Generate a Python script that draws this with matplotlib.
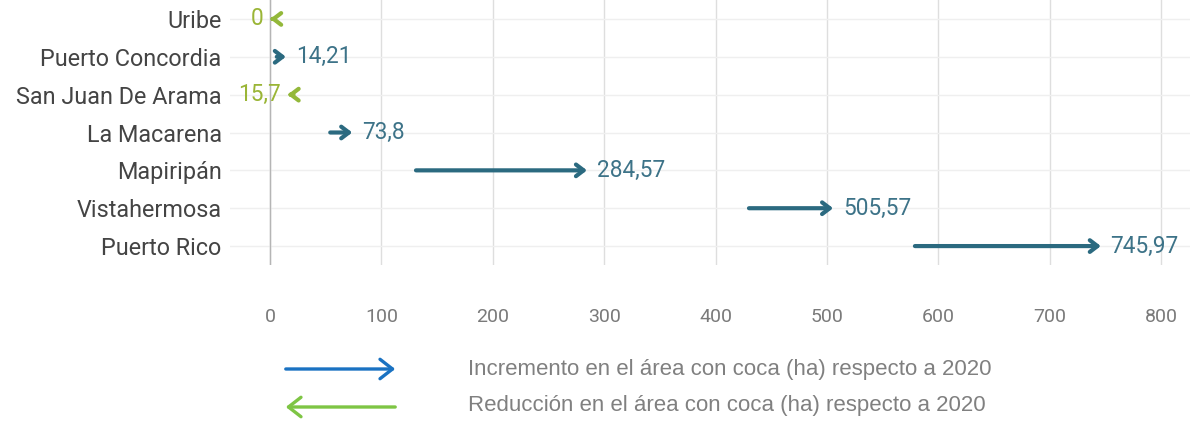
import matplotlib.pyplot as plt
from matplotlib.patches import FancyArrowPatch

# municipios, area 2020 (inicio) y area 2021 (fin)
municipios = ['Uribe', 'Puerto Concordia', 'San Juan De Arama', 'La Macarena',
              'Mapiripán', 'Vistahermosa', 'Puerto Rico']
inicio = [3, 6, 21, 54, 131, 430, 579]
fin = [0, 14.21, 15.7, 73.8, 284.57, 505.57, 745.97]
etiquetas = ['0', '14,21', '15,7', '73,8', '284,57', '505,57', '745,97']
xticks = [0, 100, 200, 300, 400, 500, 600, 700, 800]

leyenda = ['Incremento en el área con coca (ha) respecto a 2020',
           'Reducción en el área con coca (ha) respecto a 2020']

c_up = '#2b6a80'
c_up_txt = '#3d7388'
c_down = '#93b83a'
c_down_txt = '#9ab536'

plt.rcParams['font.family'] = ['Roboto', 'DejaVu Sans']

fig = plt.figure(figsize=(11.94, 4.21), dpi=100)
ax = fig.add_axes([230 / 1194, 1 - 265 / 421, 960 / 1194, 265 / 421])

n = len(municipios)
ypos = list(range(n))
ax.set_ylim(n - 0.5, -0.5)
ax.set_xlim(-36, 826)

for i in range(n):
    a, b = inicio[i], fin[i]
    up = b >= a
    col = c_up if up else c_down
    ax.annotate('', xy=(b, i), xytext=(a, i),
                arrowprops=dict(arrowstyle='->,head_length=0.55,head_width=0.42',
                                color=col, lw=3, shrinkA=0, shrinkB=0))
    if up:
        ax.annotate(etiquetas[i], xy=(b, i), xytext=(7, 0), textcoords='offset points',
                    ha='left', va='center', fontsize=16.3, color=c_up_txt)
    else:
        ax.annotate(etiquetas[i], xy=(b, i), xytext=(-5, 0), textcoords='offset points',
                    ha='right', va='center', fontsize=16.3, color=c_down_txt)

ax.set_yticks(ypos)
ax.set_yticklabels(municipios, fontsize=16.8, color='#444444')
ax.set_xticks(xticks)
ax.set_xticklabels([str(t) for t in xticks], fontsize=14, color='#7a7a7a')
ax.tick_params(axis='y', length=0, pad=6)
ax.tick_params(axis='x', length=0, pad=31)

ax.grid(axis='x', color='#dedede', lw=1)
ax.grid(axis='y', color='#efefef', lw=1)
ax.axvline(0, color='#b5b5b5', lw=1, zorder=1)
ax.set_axisbelow(True)
for s in ax.spines.values():
    s.set_visible(False)

# leyenda manual
y1 = 1 - 369 / 421
y2 = 1 - 407 / 421
x_a, x_b = 283 / 1194, 398 / 1194
fig.patches.append(FancyArrowPatch((x_a, y1), (x_b, y1), transform=fig.transFigure,
                                   arrowstyle='->,head_length=9,head_width=7',
                                   color='#1a72c2', lw=2.4, mutation_scale=1))
fig.patches.append(FancyArrowPatch((x_b, y2), (x_a, y2), transform=fig.transFigure,
                                   arrowstyle='->,head_length=9,head_width=7',
                                   color='#7ec544', lw=2.4, mutation_scale=1))
fam_ley = ['Liberation Sans', 'DejaVu Sans']
fig.text(468 / 1194, 1 - 369 / 421, leyenda[0], fontsize=16, color='#808080',
         va='center', ha='left', family=fam_ley)
fig.text(468 / 1194, 1 - 405 / 421, leyenda[1], fontsize=16, color='#808080',
         va='center', ha='left', family=fam_ley)

plt.savefig('out.png', dpi=100)
